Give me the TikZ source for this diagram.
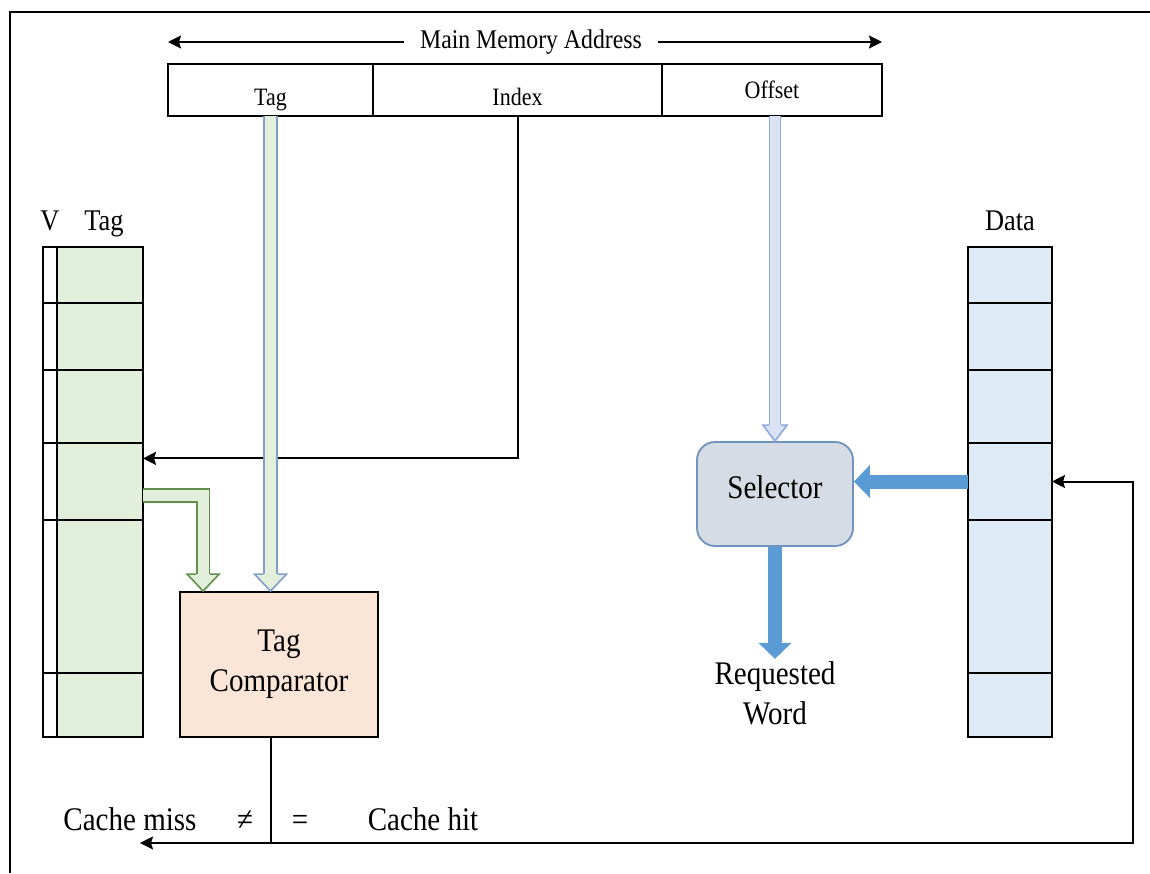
\documentclass[tikz,border=0pt]{standalone}
\usepackage{fontspec}
\setmainfont{Liberation Serif}[FakeStretch=0.88]
\usetikzlibrary{positioning, arrows.meta, calc}

\definecolor{tagfill}{HTML}{E2EFDA}
\definecolor{tagedge}{HTML}{628F4C}
\definecolor{busedge}{HTML}{7FA0C6}
\definecolor{cmpfill}{HTML}{FBE5D6}
\definecolor{offfill}{HTML}{DAE3F3}
\definecolor{offedge}{HTML}{8FAADC}
\definecolor{selfill}{HTML}{D6DCE5}
\definecolor{seledge}{HTML}{6F93BD}
\definecolor{datafill}{HTML}{DEEBF7}
\definecolor{wordblue}{HTML}{5B9BD5}

\begin{document}
\begin{tikzpicture}[
    x=0.5pt, y=-0.5pt,
    big/.style={font=\fontsize{16.5}{20}\selectfont},
    head/.style={font=\fontsize{15}{17}\selectfont, inner sep=0pt},
    field/.style={
        draw,
        line width=0.9pt,
        minimum height=26pt,
        inner sep=0pt,
        outer sep=0pt,
        font=\fontsize{12.5}{14}\selectfont
    },
    cell/.style={draw, line width=0.9pt, inner sep=0pt, outer sep=0pt},
    wire/.style={line width=1pt, -{Stealth[length=6.5pt, width=6.5pt, inset=1pt]}},
    hollow/.style={line width=0.8pt, double distance=5.6pt, line join=miter},
    fat/.style={line width=7pt, wordblue, -{Triangle[length=8pt, width=16pt]}}
]
\useasboundingbox (0,0) rectangle (1150,873);

% frame
\draw[line width=1pt] (10,873) |- (1150,12);

% address fields
\node[field, minimum width=102.5pt, text height=18pt, text depth=3pt] (tagf) at (270.5,90) {Tag};
\node[field, minimum width=144.5pt, text height=18pt, text depth=3pt, right=0pt of tagf] (indexf) {Index};
\node[field, minimum width=110pt, right=0pt of indexf] (offsetf) {Offset};

\node[font=\fontsize{13.5}{16}\selectfont, fill=white, inner xsep=8pt] (mma) at (531,42) {Main Memory Address};
\draw[wire] (mma) -- (tagf.west |- mma);
\draw[wire] (mma) -- (offsetf.east |- mma);

% tag array and data array
\foreach \ya/\yb [count=\i] in {247/303, 303/370, 370/443, 443/520, 520/673, 673/737} {
    \node[cell, fill=white, minimum width=7pt, minimum height={(\yb-\ya)*0.5pt}] (v\i) at (50,{(\ya+\yb)/2}) {};
    \node[cell, fill=tagfill, minimum width=43pt, minimum height={(\yb-\ya)*0.5pt}] (tag\i) at (100,{(\ya+\yb)/2}) {};
    \node[cell, fill=datafill, minimum width=42pt, minimum height={(\yb-\ya)*0.5pt}] (data\i) at (1010,{(\ya+\yb)/2}) {};
}
\node[head, anchor=base] (vlbl) at (50,230) {V};
\node[head, anchor=base] (taglbl) at (104,230) {Tag};
\node[head, anchor=base] (datalbl) at (1010,230) {Data};

% blocks
\node[draw, line width=0.9pt, fill=cmpfill, minimum width=99pt, minimum height=72.5pt, align=center, big] (cmp) at (279,664.5) {Tag\\Comparator};
\node[draw=seledge, line width=0.9pt, fill=selfill, rounded corners=9pt, minimum width=78pt, minimum height=52pt, text height=12pt, text depth=8pt, big] (sel) at (775,494) {Selector};
\node[big, align=center, inner sep=1pt] (word) at (775,693) {Requested\\Word};

% index line
\coordinate (irow) at ($(tag4.north east)!0.2!(tag4.south east)$);
\draw[wire] (indexf.south) |- (irow);

% tag to comparator
\coordinate (ttip) at (tagf.south |- cmp.north);
\draw[hollow, busedge, double=tagfill] (tagf.south) -- ($(ttip)+(0,-17)$);
\fill[tagfill] ($(ttip)+(-16,-17)$) -- (ttip) -- ($(ttip)+(16,-17)$) -- cycle;
\draw[busedge, line width=0.8pt] ($(ttip)+(-7,-17)$) -- ++(-9,0) -- (ttip) -- ($(ttip)+(16,-17)$) -- ++(-9,0);

% stored tag to comparator
\coordinate (gsrc) at ($(tag4.north east)!0.68!(tag4.south east)$);
\coordinate (gtip) at ($(cmp.north west)+(24,0)$);
\draw[hollow, tagedge, double=tagfill] (gsrc) -| ($(gtip)+(0,-17)$);
\fill[tagfill] ($(gtip)+(-16,-17)$) -- (gtip) -- ($(gtip)+(16,-17)$) -- cycle;
\draw[tagedge, line width=0.8pt] ($(gtip)+(-7,-17)$) -- ++(-9,0) -- (gtip) -- ($(gtip)+(16,-17)$) -- ++(-9,0);

% offset to selector
\coordinate (otip) at (sel.north);
\draw[hollow, offedge, double=offfill, double distance=4.8pt] (offsetf.south -| otip) -- ($(otip)+(0,-16)$);
\fill[offfill] ($(otip)+(-12,-16)$) -- (otip) -- ($(otip)+(12,-16)$) -- cycle;
\draw[offedge, line width=0.8pt] ($(otip)+(-6,-16)$) -- ++(-6,0) -- (otip) -- ($(otip)+(12,-16)$) -- ++(-6,0);

% data word out
\draw[fat] (data4.west) -- (data4.west -| sel.east);
\draw[fat] (sel.south) -- (word.north);

% hit / miss
\coordinate (cmpout) at (ttip |- cmp.south);
\coordinate (miss) at (140,843);
\coordinate (hit) at (1133,843);
\draw[wire] (cmpout) |- (miss);
\draw[wire] (cmpout) |- (hit) |- (data4.east);

\node[big, anchor=base] (misslbl) at (130,830) {Cache miss};
\node[big, anchor=base] (nelbl) at (245,830) {≠};
\node[big, anchor=base] (eqlbl) at (300,830) {=};
\node[big, anchor=base] (hitlbl) at (423,830) {Cache hit};

\end{tikzpicture}
\end{document}
